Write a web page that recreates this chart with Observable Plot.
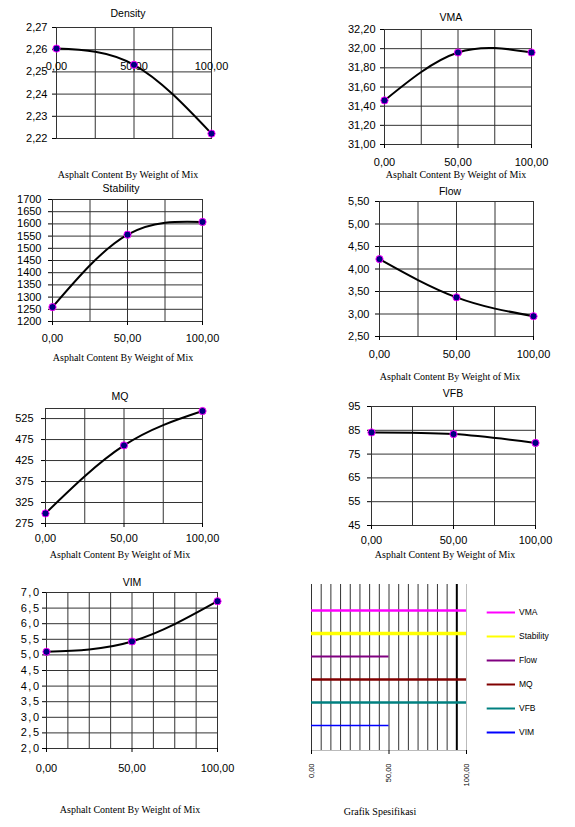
<!DOCTYPE html>
<html><head><meta charset="utf-8">
<script src="https://cdn.jsdelivr.net/npm/d3@7"></script>
<script src="https://cdn.jsdelivr.net/npm/@observablehq/plot@0.6"></script>
<style>
html,body{margin:0;padding:0;background:#fff;}
#page{position:relative;width:575px;height:827px;overflow:hidden;background:#fff;}
.abs{position:absolute;}
.lbl{position:absolute;white-space:nowrap;line-height:1;transform:translate(-50%,-50%);color:#000;}
.sans{font-family:"Liberation Sans",Arial,sans-serif;font-size:10.5px;}
.serif{font-family:"Liberation Serif","Times New Roman",serif;font-size:10px;}
</style></head><body><div id="page"></div>
<script>
// ---- data ----
const xContent = [0, 50, 100];
const xTickValues = [0, 50, 100];
const quarterGrid = [0, 25, 50, 75, 100];
const eighthGrid = [0, 12.5, 25, 37.5, 50, 62.5, 75, 87.5, 100];

const density = [2.2605, 2.2532, 2.2222];
const densityTicks = [2.22, 2.23, 2.24, 2.25, 2.26, 2.27];
const densityAxisCross = 2.2523;

const vma = [31.46, 31.96, 31.96];
const vmaTicks = [31.0, 31.2, 31.4, 31.6, 31.8, 32.0, 32.2];

const stability = [1259, 1556, 1608];
const stabilityTicks = [1200, 1250, 1300, 1350, 1400, 1450, 1500, 1550, 1600, 1650, 1700];

const flow = [4.22, 3.37, 2.95];
const flowTicks = [2.5, 3.0, 3.5, 4.0, 4.5, 5.0, 5.5];

const mq = [299, 461, 543];
const mqTicks = [275, 325, 375, 425, 475, 525];
const mqMax = 549;

const vfb = [84.1, 83.4, 79.7];
const vfbTicks = [45, 55, 65, 75, 85, 95];

const vim = [5.10, 5.43, 6.72];
const vimTicks = [2.0, 2.5, 3.0, 3.5, 4.0, 4.5, 5.0, 5.5, 6.0, 6.5, 7.0];

const specNames = ["VMA", "Stability", "Flow", "MQ", "VFB", "VIM"];
const specFrom = [0, 0, 0, 0, 0, 0];
const specTo = [100, 100, 50, 100, 100, 50];
const specGrid = [0, 6.25, 12.5, 18.75, 25, 31.25, 37.5, 43.75, 50, 56.25, 62.5, 68.75, 75, 81.25, 87.5];
const specLimit = [93.75];
const specEdge = [100];

const xTitle = "Asphalt Content By Weight of Mix";
const specTitle = "Grafik Spesifikasi";

// ---- styling ----
const specColors = ["#ff00ff", "#ffff00", "#800080", "#800000", "#008080", "#0000ff"];
const specWidths = {VMA: 2.5, Stability: 3.5, Flow: 2, MQ: 2.5, VFB: 2.5, VIM: 1.5};
const gridColor = "#333";
const page = document.getElementById("page");
const baseStyle = {fontFamily: "'Liberation Sans', Arial, sans-serif", fontSize: "11px", color: "#000", background: "transparent", overflow: "visible"};

function label(text, cx, cy, cls) {
  const d = document.createElement("div");
  d.className = "lbl " + cls;
  d.style.left = cx + "px";
  d.style.top = cy + "px";
  d.textContent = text;
  page.appendChild(d);
}
function place(svg, left, top) {
  svg.style.position = "absolute";
  svg.style.left = left + "px";
  svg.style.top = top + "px";
  svg.style.maxWidth = "none";
  page.appendChild(svg);
}
const comma = (d, n) => d.toFixed(n).replace(".", ",");

function panel(cfg) {
  const {left, top, width, height, frame, values, yDomain, yTicks, yDigits, xGrid,
         xPad, yPad, title, titlePos, xTitlePos, insideX, yLetter} = cfg;
  const [fx0, fx1, fy0, fy1] = frame;
  const data = xContent.map((x, i) => ({x, y: values[i]}));
  const marks = [
    Plot.gridX(xGrid, {stroke: gridColor, strokeOpacity: 1}),
    Plot.gridY(yTicks, {stroke: gridColor, strokeOpacity: 1}),
    Plot.frame({stroke: gridColor}),
    Plot.axisY(yTicks, {tickFormat: d => comma(d, yDigits), tickSize: 4, tickPadding: yPad, label: null})
  ];
  if (insideX !== undefined) {
    marks.push(Plot.text(xTickValues, {x: d => d, y: () => insideX, text: d => comma(d, 2), fontSize: 11}));
  } else {
    marks.push(Plot.axisX(xTickValues, {tickFormat: d => comma(d, 2), tickSize: 4, tickPadding: xPad, label: null}));
  }
  marks.push(Plot.line(data, {x: "x", y: "y", curve: "natural", stroke: "#000", strokeWidth: 2}));
  marks.push(Plot.dot(data, {x: "x", y: "y", r: 3.6, fill: "#000080", stroke: "#ff00ff", strokeWidth: 1}));
  const svg = Plot.plot({
    width, height,
    marginLeft: fx0 - left, marginRight: left + width - fx1,
    marginTop: fy0 - top, marginBottom: top + height - fy1,
    x: {domain: [0, 100], axis: null},
    y: {domain: yDomain, axis: null},
    style: baseStyle,
    marks
  });
  if (yLetter) {
    svg.querySelectorAll('g[aria-label="y-axis tick label"]').forEach(g => g.style.letterSpacing = yLetter);
  }
  place(svg, left, top);
  label(title, titlePos[0], titlePos[1], "sans");
  label(xTitle, xTitlePos[0], xTitlePos[1], "serif");
}

panel({left: 0, top: 0, width: 290, height: 190, frame: [56, 211, 27, 138],
  values: density, yDomain: [2.22, 2.27], yTicks: densityTicks, yDigits: 2, xGrid: quarterGrid,
  yPad: 5, title: "Density", titlePos: [128, 13], xTitlePos: [128, 175], insideX: densityAxisCross});

panel({left: 290, top: 0, width: 285, height: 190, frame: [384, 531, 29, 144],
  values: vma, yDomain: [31.0, 32.2], yTicks: vmaTicks, yDigits: 2, xGrid: quarterGrid,
  yPad: 5, xPad: 10, title: "VMA", titlePos: [451, 17], xTitlePos: [456, 175]});

panel({left: 0, top: 180, width: 290, height: 200, frame: [52, 202, 199, 321],
  values: stability, yDomain: [1200, 1700], yTicks: stabilityTicks, yDigits: 0, xGrid: quarterGrid,
  yPad: 7, xPad: 9, title: "Stability", titlePos: [121, 188], xTitlePos: [123, 358]});

panel({left: 290, top: 180, width: 285, height: 200, frame: [379, 533, 201, 336],
  values: flow, yDomain: [2.5, 5.5], yTicks: flowTicks, yDigits: 2, xGrid: quarterGrid,
  yPad: 6, xPad: 10, title: "Flow", titlePos: [450, 191], xTitlePos: [450, 377]});

panel({left: 0, top: 380, width: 290, height: 180, frame: [45, 202, 408, 523],
  values: mq, yDomain: [275, mqMax], yTicks: mqTicks, yDigits: 0, xGrid: quarterGrid,
  yPad: 8, xPad: 7, title: "MQ", titlePos: [120, 396], xTitlePos: [120, 555]});

panel({left: 290, top: 380, width: 285, height: 180, frame: [371, 535, 406, 525],
  values: vfb, yDomain: [45, 95], yTicks: vfbTicks, yDigits: 0, xGrid: quarterGrid,
  yPad: 7, xPad: 7, title: "VFB", titlePos: [453, 393], xTitlePos: [445, 555]});

panel({left: 0, top: 560, width: 290, height: 267, frame: [46, 217, 592, 748],
  values: vim, yDomain: [2.0, 7.0], yTicks: vimTicks, yDigits: 1, xGrid: eighthGrid,
  yPad: 2, xPad: 12, title: "VIM", titlePos: [132, 582], xTitlePos: [130, 810], yLetter: "1.5px"});

// ---- Grafik Spesifikasi ----
const specData = specNames.map((name, i) => ({name, from: specFrom[i], to: specTo[i]}));
const specSvg = Plot.plot({
  width: 285, height: 267,
  marginLeft: 21, marginRight: 109, marginTop: 24, marginBottom: 77,
  x: {domain: [0, 100], axis: null},
  y: {type: "point", domain: specNames, padding: 1, axis: null},
  color: {domain: specNames, range: specColors},
  style: baseStyle,
  marks: [
    Plot.gridX(specGrid, {stroke: gridColor, strokeOpacity: 1}),
    Plot.ruleX(specLimit, {stroke: "#000", strokeWidth: 2}),
    Plot.ruleX(specEdge, {stroke: "#bbb"}),
    Plot.frame({anchor: "bottom", stroke: "#bbb"}),
    Plot.axisX(xTickValues, {tickFormat: d => comma(d, 2), tickRotate: -90, tickSize: 4, tickPadding: 9, fontSize: 7.5, label: null}),
    Plot.ruleY(specData, {y: "name", x1: "from", x2: "to", stroke: "name", strokeWidth: d => specWidths[d.name]})
  ]
});
place(specSvg, 290, 560);

const legendSvg = Plot.plot({
  width: 95, height: 160,
  x: {domain: [0, 1], range: [6.7, 35], axis: null},
  y: {type: "point", domain: specNames, range: [20, 143], padding: 0, axis: null},
  color: {domain: specNames, range: specColors},
  style: baseStyle,
  marks: [
    Plot.ruleY(specNames, {y: d => d, x1: () => 0, x2: () => 1, stroke: d => d, strokeWidth: 2}),
    Plot.text(specNames, {y: d => d, x: () => 1, dx: 3.5, text: d => d, textAnchor: "start", fontSize: 8.5})
  ]
});
place(legendSvg, 480, 590);
label(specTitle, 380, 812, "serif");
</script></body></html>
